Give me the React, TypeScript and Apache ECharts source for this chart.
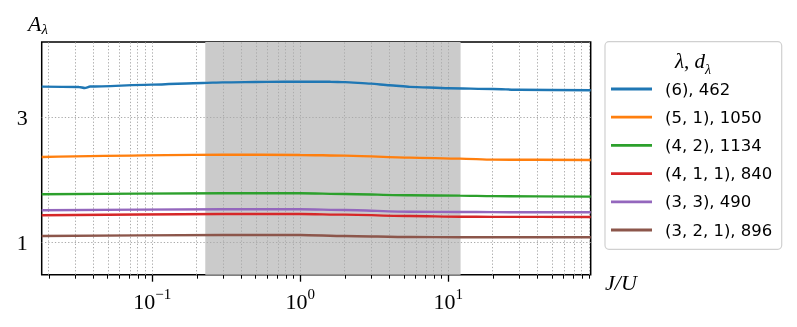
import React, { useEffect, useRef } from "react";
import * as echarts from "echarts";

// ---- data (J/U on a log scale, A_lambda values) ----
const xBlue = [0.0179, 0.032, 0.035, 0.038, 0.1, 0.22, 0.3, 0.6, 1, 1.6, 2, 3, 4, 5.5, 10, 20, 30, 91.6];
const yBlue = [3.488, 3.483, 3.467, 3.49, 3.52, 3.547, 3.556, 3.565, 3.568, 3.566, 3.56, 3.536, 3.51, 3.485, 3.463, 3.451, 3.438, 3.43];
const xCommon = [0.0179, 0.3, 1, 2, 5.5, 12, 20, 91.6];
const yOrange = [2.367, 2.404, 2.399, 2.388, 2.356, 2.34, 2.324, 2.319];
const yGreen = [1.772, 1.788, 1.788, 1.777, 1.756, 1.75, 1.742, 1.734];
const yRed = [1.437, 1.458, 1.458, 1.447, 1.426, 1.415, 1.412, 1.41];
const yPurple = [1.517, 1.533, 1.533, 1.522, 1.494, 1.49, 1.487, 1.485];
const yBrown = [1.107, 1.123, 1.123, 1.107, 1.091, 1.086, 1.086, 1.086];
const seriesNames = ["(6), 462", "(5, 1), 1050", "(4, 2), 1134", "(4, 1, 1), 840", "(3, 3), 490", "(3, 2, 1), 896"];
const seriesColors = ["#1f77b4", "#ff7f0e", "#2ca02c", "#d62728", "#9467bd", "#8c564b"];
const xMajorTicks = [0.1, 1, 10];
const xMajorExp = ["−1", "0", "1"];
const yTicks = [1, 3];
const shadeRange = [0.228, 12.1];
const xRange = [0.0179, 91.6];
const yRange = [0.49, 4.2];

const L = Math.log10;

export default function App() {
  const ref = useRef<HTMLDivElement>(null);
  useEffect(() => {
    document.body.style.margin = "0";
    const chart = echarts.init(ref.current!, null, { renderer: "svg" });
    const xMin = L(xRange[0]);
    const xMax = L(xRange[1]);
    const minor: number[] = [];
    for (let k = -2; k <= 1; k++) {
      for (let m = 2; m <= 9; m++) {
        const v = m * Math.pow(10, k);
        if (v >= xRange[0] && v <= xRange[1]) minor.push(L(v));
      }
    }
    const major = xMajorTicks.map(L);
    const allGrid = [...minor, ...major];
    const serif = "Liberation Serif";
    const gridStyle = { color: "#ababab", width: 1, type: [1.3, 2] as any };

    const dataSeries = [
      { x: xBlue, y: yBlue },
      { x: xCommon, y: yOrange },
      { x: xCommon, y: yGreen },
      { x: xCommon, y: yRed },
      { x: xCommon, y: yPurple },
      { x: xCommon, y: yBrown },
    ].map((s, i) => ({
      type: "line",
      name: seriesNames[i],
      data: s.x.map((xv, j) => [L(xv), s.y[j]]),
      showSymbol: false,
      smooth: 0.25,
      smoothMonotone: "x",
      z: 5,
      lineStyle: { color: seriesColors[i], width: 2.4 },
      itemStyle: { color: seriesColors[i] },
    }));

    const option: any = {
      animation: false,
      grid: {
        left: 41.7,
        top: 42,
        width: 549,
        height: 232.7,
        show: true,
        borderColor: "#000",
        borderWidth: 1.5,
        backgroundColor: "transparent",
        containLabel: false,
        outerBoundsMode: "none",
      },
      xAxis: [
        {
          type: "value",
          min: xMin,
          max: xMax,
          position: "bottom",
          axisLine: { show: false },
          splitLine: { show: false },
          axisTick: { show: true, customValues: major, length: 7, lineStyle: { color: "#000", width: 1.3 } },
          axisLabel: {
            show: true,
            customValues: major,
            margin: 12,
            formatter: (v: number) => {
              const idx = major.findIndex((m) => Math.abs(m - v) < 1e-6);
              return `{b|10}{s|${xMajorExp[idx]}}`;
            },
            rich: {
              b: { fontFamily: serif, fontSize: 22, color: "#000", lineHeight: 26, verticalAlign: "bottom" },
              s: { fontFamily: serif, fontSize: 15, color: "#000", lineHeight: 15, verticalAlign: "top" },
            },
          },
        },
        {
          type: "value",
          min: xMin,
          max: xMax,
          position: "bottom",
          axisLine: { show: false },
          splitLine: { show: false },
          axisTick: { show: true, customValues: minor, length: 4, lineStyle: { color: "#000", width: 1 } },
          axisLabel: { show: false },
        },
      ],
      yAxis: {
        type: "value",
        min: yRange[0],
        max: yRange[1],
        axisLine: { show: false },
        splitLine: { show: false },
        axisTick: { show: true, customValues: yTicks, length: 7, lineStyle: { color: "#000", width: 1.3 } },
        axisLabel: {
          show: true,
          customValues: yTicks,
          margin: 14,
          fontFamily: serif,
          fontSize: 22,
          color: "#000",
        },
      },
      legend: {
        orient: "vertical",
        left: 611,
        top: 79,
        data: seriesNames,
        icon: "rect",
        itemWidth: 41,
        itemHeight: 2.8,
        itemGap: 8.2,
        padding: 0,
        textStyle: { fontFamily: "DejaVu Sans", fontSize: 16.5, color: "#000", lineHeight: 20, padding: [0, 0, 0, 8] },
      },
      graphic: [
        {
          type: "rect",
          shape: { x: 605, y: 41.7, width: 176.7, height: 207.6, r: 4 },
          style: { fill: "rgba(255,255,255,0.8)", stroke: "#d0d0d0", lineWidth: 1.2 },
          z: -1,
          silent: true,
        },
        {
          type: "text",
          x: 693,
          y: 63,
          style: {
            text: "{i|λ}{n|, }{i|d}{sub|λ}",
            align: "center",
            verticalAlign: "middle",
            rich: {
              i: { fontFamily: serif, fontStyle: "italic", fontSize: 21, fill: "#000", lineHeight: 26, verticalAlign: "top" },
              n: { fontFamily: serif, fontSize: 21, fill: "#000", lineHeight: 26, verticalAlign: "top" },
              sub: { fontFamily: serif, fontStyle: "italic", fontSize: 14, fill: "#000", lineHeight: 14, verticalAlign: "bottom" },
            },
          },
        },
        {
          type: "text",
          x: 28,
          y: 12,
          style: {
            text: "{a|A}{s|λ}",
            rich: {
              a: { fontFamily: serif, fontStyle: "italic", fontSize: 22, fill: "#000", lineHeight: 24, verticalAlign: "top" },
              s: { fontFamily: serif, fontStyle: "italic", fontSize: 15, fill: "#000", lineHeight: 14, verticalAlign: "bottom" },
            },
          },
        },
        {
          type: "text",
          x: 605,
          y: 271,
          style: { text: "J/U", fontFamily: serif, fontStyle: "italic", fontSize: 22, fill: "#000" },
        },
      ],
      series: [
        {
          type: "line",
          data: [],
          z: 1,
          silent: true,
          markArea: {
            silent: true,
            itemStyle: { color: "#cbcbcb" },
            data: [[{ xAxis: L(shadeRange[0]) }, { xAxis: L(shadeRange[1]) }]],
          },
        },
        {
          type: "line",
          data: [],
          z: 2,
          silent: true,
          markLine: {
            silent: true,
            symbol: "none",
            label: { show: false },
            lineStyle: gridStyle,
            data: [...allGrid.map((v) => ({ xAxis: v })), ...yTicks.map((v) => ({ yAxis: v }))],
          },
        },
        ...dataSeries,
      ],
    };
    chart.setOption(option);
    return () => chart.dispose();
  }, []);
  return <div ref={ref} style={{ position: "fixed", left: 0, top: 0, width: 797, height: 327 }} />;
}
